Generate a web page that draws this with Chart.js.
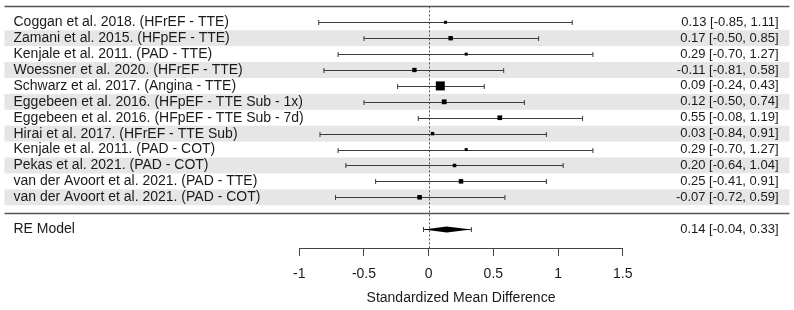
<!DOCTYPE html>
<html><head><meta charset="utf-8">
<script src="https://cdn.jsdelivr.net/npm/chart.js@4/dist/chart.umd.min.js"></script>
<style>html,body{margin:0;padding:0;background:#fff;}#wrap{width:794px;height:310px;position:relative;}</style>
</head><body><div id="wrap"><canvas id="c"></canvas></div>
<script>
const studies = [
  'Coggan et al. 2018. (HFrEF - TTE)',
  'Zamani et al. 2015. (HFpEF - TTE)',
  'Kenjale et al. 2011. (PAD - TTE)',
  'Woessner et al. 2020. (HFrEF - TTE)',
  'Schwarz et al. 2017. (Angina - TTE)',
  'Eggebeen et al. 2016. (HFpEF - TTE Sub - 1x)',
  'Eggebeen et al. 2016. (HFpEF - TTE Sub - 7d)',
  'Hirai et al. 2017. (HFrEF - TTE Sub)',
  'Kenjale et al. 2011. (PAD - COT)',
  'Pekas et al. 2021. (PAD - COT)',
  'van der Avoort et al. 2021. (PAD - TTE)',
  'van der Avoort et al. 2021. (PAD - COT)'
];
const estimates = [0.13, 0.17, 0.29, -0.11, 0.09, 0.12, 0.55, 0.03, 0.29, 0.20, 0.25, -0.07];
const lowerCI   = [-0.85, -0.50, -0.70, -0.81, -0.24, -0.50, -0.08, -0.84, -0.70, -0.64, -0.41, -0.72];
const upperCI   = [1.11, 0.85, 1.27, 0.58, 0.43, 0.74, 1.19, 0.91, 1.27, 1.04, 0.91, 0.59];
const summaryLabel = 'RE Model';
const summaryEstimate = [0.14];
const summaryLower = [-0.04];
const summaryUpper = [0.33];
const xTicks = [-1, -0.5, 0, 0.5, 1, 1.5];
const xTitle = 'Standardized Mean Difference';

const FONT = '"Liberation Sans", Arial, Helvetica, sans-serif';
const TEXT = '#1a1a1a';
const LINE = '#3a3a3a';

// marker size proportional to precision (1/SE), rescaled like metafor
const precision = lowerCI.map((lo, i) => 1 / ((upperCI[i] - lo) / (2 * 1.959964)));
const pMin = Math.min(...precision), pMax = Math.max(...precision);
const sides = precision.map(p => 3 + 6 * (p - pMin) / (pMax - pMin));
const radii = sides.map(s => s / Math.SQRT2);

const rowY = i => i + 1;
const summaryY = studies.length + 2;
const fmt = (e, l, u) => e.toFixed(2) + ' [' + l.toFixed(2) + ', ' + u.toFixed(2) + ']';

const forestPlugin = {
  id: 'forest',
  beforeDatasetsDraw(chart) {
    const ctx = chart.ctx, xs = chart.scales.x, ys = chart.scales.y;
    const L = 4.5, R = 789.5;
    ctx.save();
    ctx.fillStyle = '#e6e6e6';
    studies.forEach((s, i) => {
      if (i % 2 === 1) {
        const y0 = ys.getPixelForValue(rowY(i) - 0.5), y1 = ys.getPixelForValue(rowY(i) + 0.5);
        ctx.fillRect(L, y0, R - L, y1 - y0);
      }
    });
    ctx.strokeStyle = '#555';
    ctx.lineWidth = 1.3;
    [0, studies.length + 1].forEach(v => {
      const y = Math.round(ys.getPixelForValue(v)) + 0.5;
      ctx.beginPath(); ctx.moveTo(L, y); ctx.lineTo(R, y); ctx.stroke();
    });
    const x0 = Math.round(xs.getPixelForValue(0)) + 0.5;
    ctx.setLineDash([2, 2]);
    ctx.strokeStyle = '#555';
    ctx.lineWidth = 1;
    ctx.beginPath(); ctx.moveTo(x0, ys.getPixelForValue(0)); ctx.lineTo(x0, chart.chartArea.bottom); ctx.stroke();
    ctx.setLineDash([]);
    ctx.strokeStyle = LINE;
    ctx.lineWidth = 1;
    const whisker = (lo, hi, v) => {
      const y = Math.round(ys.getPixelForValue(v)) + 0.5;
      const a = xs.getPixelForValue(lo), b = xs.getPixelForValue(hi);
      ctx.beginPath();
      ctx.moveTo(a, y); ctx.lineTo(b, y);
      ctx.moveTo(a, y - 2.5); ctx.lineTo(a, y + 2.5);
      ctx.moveTo(b, y - 2.5); ctx.lineTo(b, y + 2.5);
      ctx.stroke();
    };
    studies.forEach((s, i) => whisker(lowerCI[i], upperCI[i], rowY(i)));
    whisker(summaryLower[0], summaryUpper[0], summaryY);
    const yc = ys.getPixelForValue(summaryY) + 0.5;
    ctx.fillStyle = '#000';
    ctx.beginPath();
    ctx.moveTo(xs.getPixelForValue(summaryLower[0]), yc);
    ctx.lineTo(xs.getPixelForValue(summaryEstimate[0]), yc - 3);
    ctx.lineTo(xs.getPixelForValue(summaryUpper[0]), yc);
    ctx.lineTo(xs.getPixelForValue(summaryEstimate[0]), yc + 3);
    ctx.closePath();
    ctx.fill();
    ctx.restore();
  },
  afterDraw(chart) {
    const ctx = chart.ctx, ys = chart.scales.y;
    ctx.save();
    ctx.fillStyle = TEXT;
    ctx.textBaseline = 'middle';
    const put = (label, value, y) => {
      ctx.font = '14px ' + FONT;
      ctx.textAlign = 'left';
      ctx.fillText(label, 13.5, y);
      ctx.font = '13px ' + FONT;
      ctx.textAlign = 'right';
      ctx.fillText(value, 778.5, y);
    };
    studies.forEach((s, i) => put(s, fmt(estimates[i], lowerCI[i], upperCI[i]), ys.getPixelForValue(rowY(i))));
    put(summaryLabel, fmt(summaryEstimate[0], summaryLower[0], summaryUpper[0]), ys.getPixelForValue(summaryY));
    ctx.restore();
  }
};

new Chart(document.getElementById('c'), {
  type: 'scatter',
  data: {
    datasets: [{
      data: studies.map((s, i) => ({ x: estimates[i], y: rowY(i) })),
      pointStyle: 'rect',
      pointRadius: radii,
      pointHoverRadius: radii,
      backgroundColor: '#000',
      borderWidth: 0,
      clip: false
    }]
  },
  options: {
    responsive: true,
    maintainAspectRatio: false,
    animation: false,
    events: [],
    layout: { padding: { left: 299.3, right: 171.3, top: 5, bottom: 0 } },
    plugins: { legend: { display: false }, tooltip: { enabled: false } },
    scales: {
      x: {
        type: 'linear',
        position: 'bottom',
        min: xTicks[0],
        max: xTicks[xTicks.length - 1],
        afterBuildTicks: s => { s.ticks = xTicks.map(v => ({ value: v })); },
        afterFit: s => { s.height = 62; },
        grid: { drawOnChartArea: false, drawTicks: true, tickLength: 8, color: '#444', lineWidth: 1 },
        border: { display: true, color: '#444', width: 1 },
        ticks: { font: { family: FONT, size: 14 }, color: TEXT, padding: 10, maxRotation: 0,
                 callback: v => String(v) },
        title: { display: true, text: xTitle, font: { family: FONT, size: 14 }, color: TEXT,
                 padding: { top: 0, bottom: 3 } }
      },
      y: {
        type: 'linear',
        display: false,
        reverse: true,
        min: 0,
        max: 15.1875
      }
    }
  },
  plugins: [forestPlugin]
});
</script></body></html>
